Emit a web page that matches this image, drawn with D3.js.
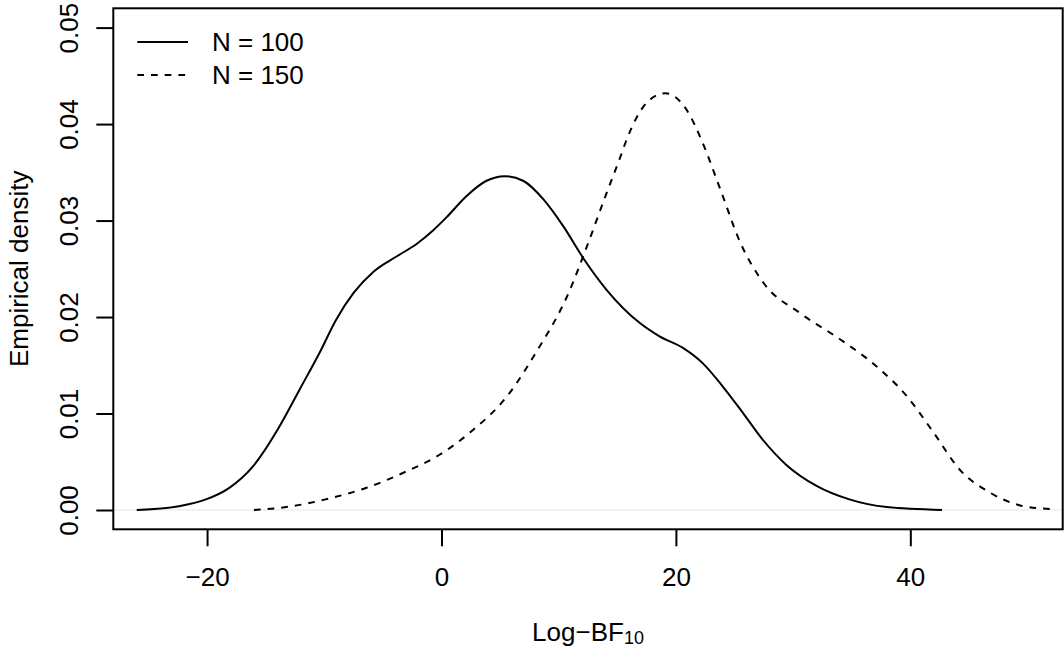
<!DOCTYPE html>
<html>
<head>
<meta charset="utf-8">
<script src="https://cdnjs.cloudflare.com/ajax/libs/d3/7.8.5/d3.min.js"></script>
<style>
  body { margin: 0; background: #ffffff; }
  text { font-family: "Liberation Sans", Arial, sans-serif; fill: #000000; }
</style>
</head>
<body>
<div id="density"></div>
<script>
// Empirical density of log Bayes factors, two sample sizes

// Curve for N = 100 (solid)
var logBF100 = [-26.0, -22.4, -20.1, -18.1, -16.1, -13.9, -12.1, -10.4, -9.0, -7.5, -5.8, -3.8, -2.1, -0.7, 0.4, 2.1, 3.8,
  5.4, 7.0, 8.7, 10.4, 12.1, 14.1, 16.9, 18.6, 20.6, 22.3, 24.0, 25.7, 27.4, 29.4, 32.0, 34.8, 38.0, 42.7];
var dens100 = [0.0000, 0.0004, 0.0011, 0.0023, 0.0045, 0.0085, 0.0125, 0.0163, 0.0197, 0.0225, 0.0247, 0.0263, 0.0276, 0.0290, 0.0303, 0.0325, 0.0341,
  0.0346, 0.0341, 0.0322, 0.0294, 0.0261, 0.0228, 0.0194, 0.0180, 0.0168, 0.0152, 0.0128, 0.0101, 0.0073, 0.0047, 0.0025, 0.0011, 0.0003, 0.0000];

// Curve for N = 150 (dashed)
var logBF150 = [-16.0, -12.7, -9.9, -6.4, -3.0, -0.2, 2.4, 5.6, 8.4, 10.1, 10.7, 12.4, 14.1, 15.2, 15.8, 17.5, 19.1,
  20.9, 22.3, 23.8, 25.5, 27.5, 30.6, 34.0, 37.1, 39.7, 42.0, 44.2, 46.8, 49.3, 51.9];
var dens150 = [0.0000, 0.0004, 0.0011, 0.0023, 0.0040, 0.0057, 0.0080, 0.0118, 0.0170, 0.0206, 0.0221, 0.0273, 0.0329, 0.0364, 0.0384, 0.0422, 0.0432,
  0.0415, 0.0380, 0.0332, 0.0277, 0.0235, 0.0204, 0.0177, 0.0149, 0.0118, 0.0080, 0.0042, 0.0018, 0.0005, 0.0001];

var xTicks = [-20, 0, 20, 40];
var yTicks = [0, 0.01, 0.02, 0.03, 0.04, 0.05];
var legendLabels = ["N = 100", "N = 150"];

var svgWidth = 1064;
var svgHeight = 647;

var plot = { left: 113.3, right: 1062.7, top: 8.3, bottom: 529.3 };

var svg = d3.select("#density")
  .append("svg")
  .attr("width", svgWidth)
  .attr("height", svgHeight);

// Scales (R style: limits padded by 4%)
var xScale = d3.scaleLinear()
  .domain([-28, 53])
  .range([plot.left, plot.right]);

var yScale = d3.scaleLinear()
  .domain([-0.002, 0.052])
  .range([plot.bottom, plot.top]);

// light reference line at zero
svg.append("line")
  .attr("x1", plot.left)
  .attr("x2", plot.right)
  .attr("y1", yScale(0))
  .attr("y2", yScale(0))
  .attr("stroke", "#e6e6e6")
  .attr("stroke-width", 1.2);

// Curves
var line = d3.line()
  .x(d => xScale(d[0]))
  .y(d => yScale(d[1]))
  .curve(d3.curveMonotoneX);

var series = [
  { pts: d3.zip(logBF100, dens100), dash: null },
  { pts: d3.zip(logBF150, dens150), dash: "6.7,7" }
];

svg.selectAll("path.curve")
  .data(series)
  .enter()
  .append("path")
  .attr("class", "curve")
  .attr("d", d => line(d.pts))
  .attr("fill", "none")
  .attr("stroke", "#000")
  .attr("stroke-width", 2)
  .attr("stroke-dasharray", d => d.dash);

// Axes
var bottomAxis = d3.axisBottom(xScale)
  .tickValues(xTicks)
  .tickFormat(d => d < 0 ? "\u2212" + Math.abs(d) : d)
  .tickSize(17)
  .tickSizeOuter(0);

var leftAxis = d3.axisLeft(yScale)
  .tickValues(yTicks)
  .tickFormat(d3.format(".2f"))
  .tickSize(17)
  .tickSizeOuter(0);

var xg = svg.append("g")
  .attr("transform", `translate(0, ${plot.bottom})`)
  .call(bottomAxis);

xg.select(".domain").remove();
xg.selectAll(".tick line").attr("stroke-width", 2);
xg.selectAll(".tick text")
  .attr("y", 56.4)
  .attr("dy", 0)
  .attr("font-size", "26px")
  .attr("font-family", null);

var yg = svg.append("g")
  .attr("transform", `translate(${plot.left}, 0)`)
  .call(leftAxis);

yg.select(".domain").remove();
yg.selectAll(".tick line").attr("stroke-width", 2);
yg.selectAll(".tick text")
  .attr("x", null)
  .attr("dy", 0)
  .attr("text-anchor", "middle")
  .attr("transform", "translate(-35.3, 0) rotate(-90)")
  .attr("font-size", "26px")
  .attr("font-family", null);

// plot box
svg.append("rect")
  .attr("x", plot.left)
  .attr("y", plot.top)
  .attr("width", plot.right - plot.left)
  .attr("height", plot.bottom - plot.top)
  .attr("fill", "none")
  .attr("stroke", "#000")
  .attr("stroke-width", 2);

// Axis labels
svg.append("text")
  .attr("transform", `translate(28, ${(plot.top + plot.bottom) / 2}) rotate(-90)`)
  .attr("text-anchor", "middle")
  .attr("font-size", "26px")
  .text("Empirical density");

var xLabel = svg.append("text")
  .attr("x", (plot.left + plot.right) / 2)
  .attr("y", 640.5)
  .attr("text-anchor", "middle")
  .attr("font-size", "26px");

xLabel.append("tspan").text("Log\u2212BF");
xLabel.append("tspan")
  .attr("font-size", "18px")
  .attr("dy", 3)
  .text("10");

// Legend
var legend = svg.append("g");

legend.selectAll("line")
  .data(series)
  .enter()
  .append("line")
  .attr("x1", 137.3)
  .attr("x2", 188)
  .attr("y1", (d, i) => 42 + i * 33)
  .attr("y2", (d, i) => 42 + i * 33)
  .attr("stroke", "#000")
  .attr("stroke-width", 2)
  .attr("stroke-dasharray", d => d.dash);

legend.selectAll("text")
  .data(legendLabels)
  .enter()
  .append("text")
  .attr("x", 212)
  .attr("y", (d, i) => 51 + i * 33)
  .attr("font-size", "26px")
  .text(d => d);
</script>
</body>
</html>
